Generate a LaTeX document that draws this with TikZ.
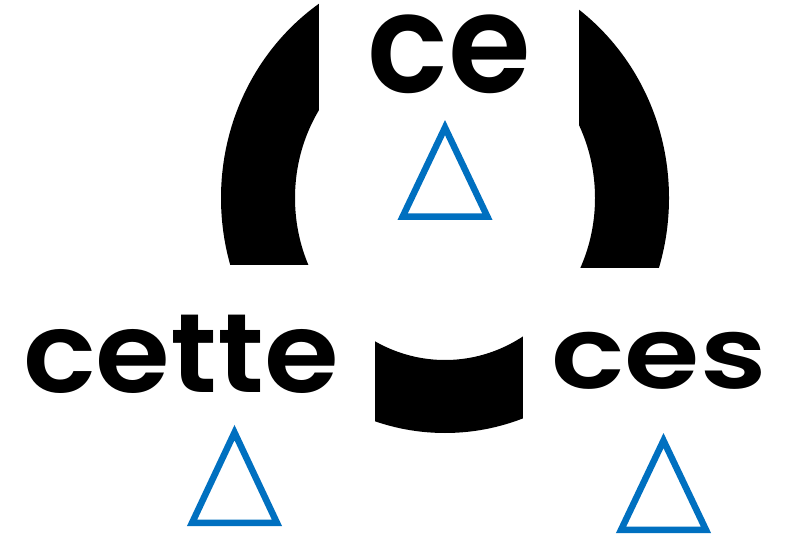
\documentclass[tikz,border=0pt]{standalone}
\usepackage{fontspec}
\setmainfont{Poppins}
\newfontfamily\wordfont{Poppins}[UprightFont=* SemiBold]
\definecolor{triblue}{HTML}{0070C0}
\tikzset{
  word/.style={inner sep=0pt, anchor=base},
  tri/.style={draw=triblue, line width=6.5pt, line join=miter},
  mask/.style={fill=white, draw=none}
}
\newcommand{\mytri}[3]{% apex x, apex y (outer), base y (outer)
  \draw[tri] (#1,#2+7.6) -- (#1+42.4,#3-3.25) -- (#1-42.4,#3-3.25) -- cycle;}
\begin{document}
\begin{tikzpicture}[x=1pt,y=-1pt]
\useasboundingbox (0,0) rectangle (792,534);
% ring
\fill[black, even odd rule] (445,198) ellipse [x radius=224, y radius=235]
                            (445,198) ellipse [x radius=150, y radius=162];
% white masks behind the words
\fill[mask] (319,-10) rectangle (579,250);
\fill[mask] (-10,265) rectangle (375,544);
\fill[mask] (523,268) rectangle (802,544);
% words
\node[word, xscale=0.97, font=\fontsize{138}{140}\wordfont] (ce) at (449,93) {ce};
\node[word, xscale=1.08, font=\fontsize{112}{120}\wordfont] (cette) at (181,392) {cette};
\node[word, xscale=1.22, font=\fontsize{100}{110}\wordfont] (ces) at (659,388) {ces};
% triangles
\mytri{445}{120}{220}
\mytri{234.5}{425}{526}
\mytri{663.5}{433}{533}
\end{tikzpicture}
\end{document}
